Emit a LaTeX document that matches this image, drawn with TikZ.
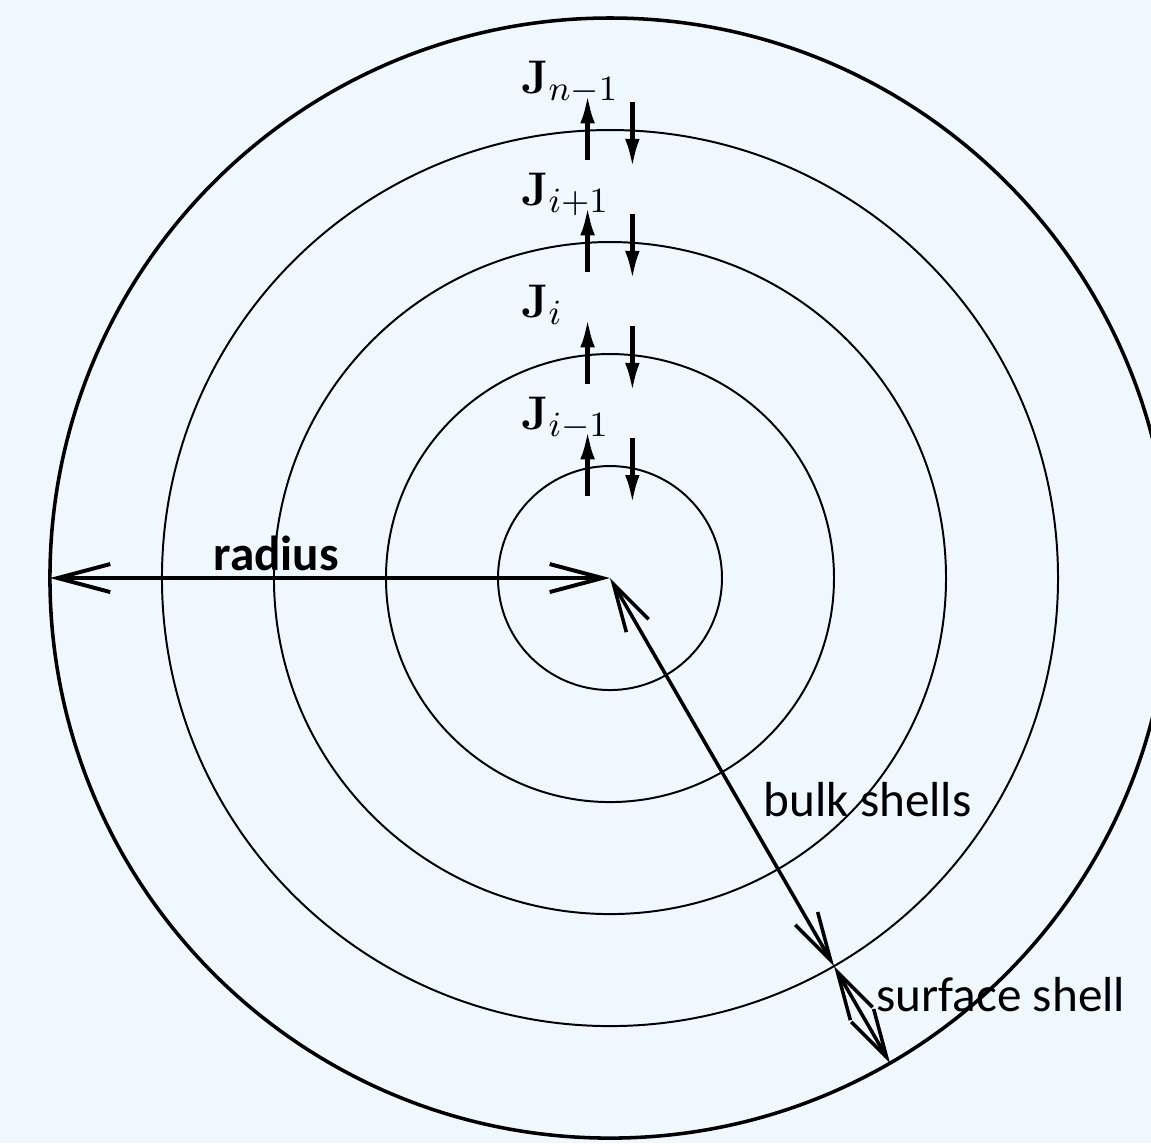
\documentclass[tikz,border=0pt]{standalone}
\usepackage{amsmath,amssymb}
\usepackage[no-math]{fontspec}
\setmainfont{Carlito}
\usepackage{tikz}
\usetikzlibrary{positioning, arrows.meta}
\definecolor{bgblue}{RGB}{240,248,255}

\begin{document}
\begin{tikzpicture}[font=\fontsize{12.5}{15}\selectfont,
  shell/.style={line width=0.5pt},
  flux/.style={line width=1.2pt, -{Latex[length=2.6mm,width=1.3mm]}},
  span/.style={line width=1pt, {Straight Barb[length=4.7mm,width=2.5mm]}-{Straight Barb[length=4.7mm,width=2.5mm]}},
  depth/.style={line width=0.9pt, {Straight Barb[length=4.3mm,width=2.3mm]}-{Straight Barb[length=4.3mm,width=2.3mm]}},
  tag/.style={inner sep=0pt, anchor=base}]
  \fill[bgblue] (-5.446,-5.045) rectangle (4.830,5.161);
  \clip (-5.446,-5.045) rectangle (4.830,5.161);

  \coordinate (ctr) at (0,0);
  \foreach \r in {1,...,4}
    \draw[shell] (ctr) circle (\r);
  \draw[line width=0.9pt] (ctr) circle (5);

  % fluxes across each shell boundary
  \foreach \r/\idx in {1/{i-1}, 2/{i}, 3/{i+1}, 4/{n-1}} {
    \coordinate (up\r) at (-0.2,\r-0.27);
    \coordinate (uptip\r) at (-0.2,\r+0.32);
    \coordinate (down\r) at (0.2,\r+0.25);
    \coordinate (downtip\r) at (0.2,\r-0.34);
    \draw[flux] (up\r) -- (uptip\r);
    \draw[flux] (down\r) -- (downtip\r);
    \node (J\r) [tag, anchor=base west] at (-0.8,\r+0.33) {$\mathbf{J}_{\idx}$};
  }

  \coordinate (rim) at (180:5);
  \coordinate (bulk) at (-60:4);
  \coordinate (surf) at (-60:5);
  \draw[span] (rim) -- (ctr);
  \draw[depth] (ctr) -- (bulk);
  \draw[depth] (bulk) -- (surf);

  \node (radlbl) [tag] at (-2.98,0.07) {\bfseries radius};
  \node (bulklbl) [tag] at (2.3,-2.13) {bulk shells};
  \node (surflbl) [tag] at (3.49,-3.87) {surface shell};
\end{tikzpicture}
\end{document}
